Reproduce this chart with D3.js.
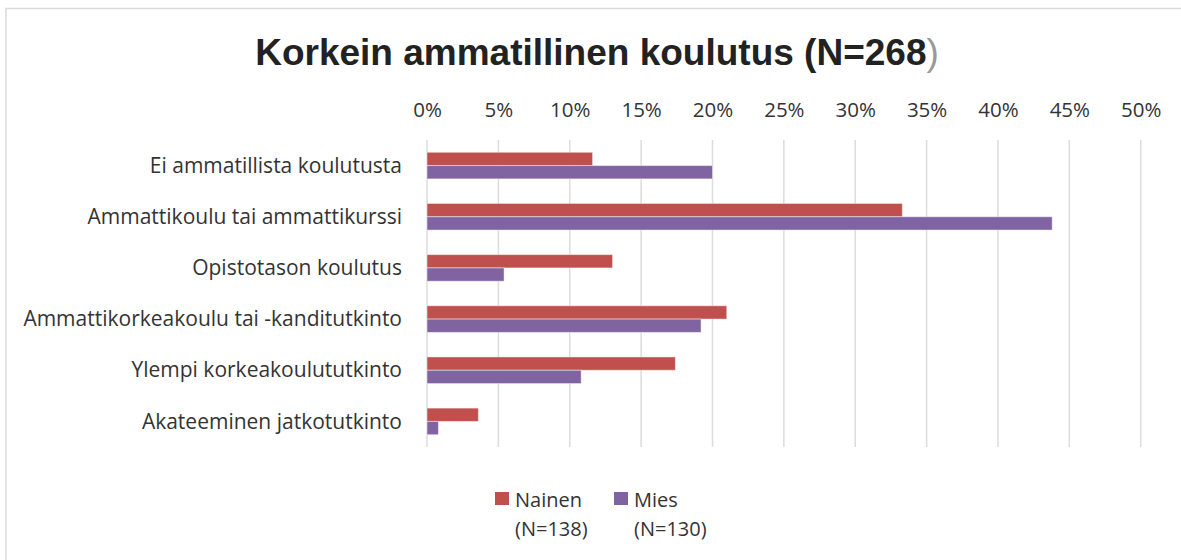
<!DOCTYPE html>
<html>
<head>
<meta charset="utf-8">
<script src="https://cdn.jsdelivr.net/npm/d3@7"></script>
<style>
  html, body { margin: 0; padding: 0; background: #fff; }
  svg { display: block; }
</style>
</head>
<body>
<svg id="chart" width="1181" height="560"></svg>
<script>
// categories, top to bottom
const categories = [
  'Ei ammatillista koulutusta',
  'Ammattikoulu tai ammattikurssi',
  'Opistotason koulutus',
  'Ammattikorkeakoulu tai -kanditutkinto',
  'Ylempi korkeakoulututkinto',
  'Akateeminen jatkotutkinto'
];
// percentages
const nainen = [11.6, 33.3, 13.0, 21.0, 17.4, 3.6];
const mies = [20.0, 43.8, 5.4, 19.2, 10.8, 0.8];
const seriesNames = ['Nainen', 'Mies'];
const seriesN = ['(N=138)', '(N=130)'];
const colors = ['#C0504D', '#8064A2'];
const xTicks = [0, 5, 10, 15, 20, 25, 30, 35, 40, 45, 50];

const svg = d3.select('#chart');
const W = 1181, H = 560;
const plot = { left: 427, right: 1140.7, top: 140, bottom: 447 };
const textColor = '#333';
const labelFont = '"Open Sans", sans-serif';

// chart border
svg.append('rect')
  .attr('x', 6).attr('y', 8.5)
  .attr('width', W + 10).attr('height', H + 10)
  .attr('fill', 'none')
  .attr('stroke', '#d9d9d9')
  .attr('stroke-width', 1.5);

// title
const title = svg.append('text')
  .attr('x', 597).attr('y', 65)
  .attr('text-anchor', 'middle')
  .style('font-family', '"Liberation Sans", Arial, sans-serif')
  .style('font-size', '37px')
  .style('font-weight', 'bold')
  .attr('fill', '#222');
title.append('tspan').text('Korkein ammatillinen koulutus (N=268');
title.append('tspan').attr('font-weight', 'normal').attr('fill', '#999').text(')');

const x = d3.scaleLinear().domain([0, 50]).range([plot.left, plot.right]);
const y = d3.scaleBand().domain(categories).range([plot.top, plot.bottom])
  .paddingInner(0.48).paddingOuter(0.24);
const ySub = d3.scaleBand().domain(seriesNames).range([0, y.bandwidth()]);

// gridlines
svg.append('g')
  .selectAll('line')
  .data(xTicks)
  .join('line')
  .attr('x1', d => x(d)).attr('x2', d => x(d))
  .attr('y1', plot.top).attr('y2', plot.bottom)
  .attr('stroke', '#dcdcdc')
  .attr('stroke-width', 1.5);

// top axis
const xAxis = d3.axisTop(x).tickValues(xTicks).tickFormat(d => d + '%').tickSize(0).tickPadding(0);
const ax = svg.append('g').attr('transform', 'translate(0,117)').call(xAxis);
ax.select('.domain').remove();
ax.selectAll('text')
  .attr('y', 0).attr('dy', 0)
  .style('font-family', labelFont)
  .style('font-size', '20.5px')
  .attr('fill', textColor);

// category labels
const yAxis = d3.axisLeft(y).tickSize(0).tickPadding(0);
const ay = svg.append('g').attr('transform', 'translate(402,0)').call(yAxis);
ay.select('.domain').remove();
ay.selectAll('text')
  .attr('dy', '0.34em')
  .style('font-family', labelFont)
  .style('font-size', '21px')
  .attr('fill', textColor);

// bars
const rows = categories.map((c, i) => ({ c, vals: [nainen[i], mies[i]] }));
const groups = svg.append('g').selectAll('g')
  .data(rows)
  .join('g')
  .attr('transform', d => `translate(0,${y(d.c)})`);

groups.selectAll('rect')
  .data(d => d.vals.map((v, j) => ({ v, s: seriesNames[j], j })))
  .join('rect')
  .attr('x', x(0))
  .attr('y', d => ySub(d.s))
  .attr('width', d => x(d.v) - x(0))
  .attr('height', ySub.bandwidth())
  .attr('fill', d => colors[d.j])
  .attr('stroke', 'rgba(255,255,255,0.45)')
  .attr('stroke-width', 1);

// legend
const legendX = [495, 614];
const legend = svg.append('g').selectAll('g')
  .data(seriesNames)
  .join('g')
  .attr('transform', (d, i) => `translate(${legendX[i]},492)`);
legend.append('rect')
  .attr('width', 14).attr('height', 13)
  .attr('fill', (d, i) => colors[i]);
legend.append('text')
  .attr('x', 20).attr('y', 14.5)
  .style('font-family', labelFont)
  .style('font-size', '20px')
  .attr('fill', textColor)
  .text(d => d);
legend.append('text')
  .attr('x', 20).attr('y', 43.5)
  .style('font-family', labelFont)
  .style('font-size', '20px')
  .attr('fill', textColor)
  .text((d, i) => seriesN[i]);
</script>
</body>
</html>
